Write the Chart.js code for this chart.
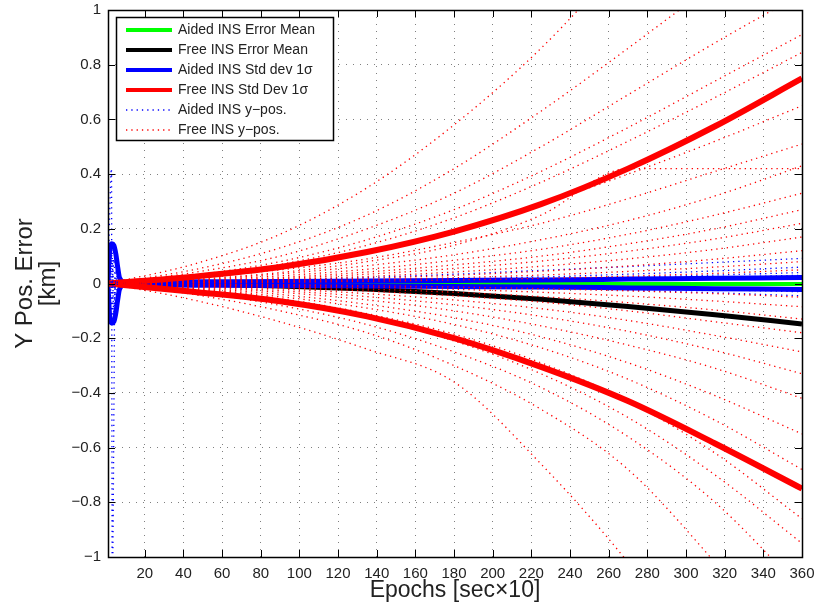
<!DOCTYPE html>
<html>
<head>
<meta charset="utf-8">
<script src="https://cdn.jsdelivr.net/npm/chart.js@4.4.1/dist/chart.umd.min.js"></script>
<style>
  html, body { margin: 0; padding: 0; background: #fff; }
  #wrap { width: 816px; height: 611px; }
</style>
</head>
<body>
<div id="wrap"><canvas id="yPosChart" width="816" height="611"></canvas></div>
<script>
const epochs = [1, 45, 90, 135, 180, 225, 270, 315, 360];
const xTicks = [20, 40, 60, 80, 100, 120, 140, 160, 180, 200, 220, 240, 260, 280, 300, 320, 340, 360];
const yTicks = [-1, -0.8, -0.6, -0.4, -0.2, 0, 0.2, 0.4, 0.6, 0.8, 1];

const aidedMean = [0, -0.001, -0.001, -0.002, -0.002, -0.002, -0.002, -0.002, -0.002];
const freeMean = [0, -0.002, -0.009, -0.02, -0.037, -0.058, -0.084, -0.114, -0.148];
const freeStdUpper = [0, 0.025, 0.06, 0.115, 0.19, 0.29, 0.42, 0.575, 0.75];
const freeStdLower = [0, -0.03, -0.065, -0.12, -0.2, -0.305, -0.43, -0.585, -0.75];

const aidedStdEpochs = [1, 2, 3, 4, 5, 6, 7, 10, 45, 90, 135, 180, 225, 270, 315, 360];
const aidedStdUpper = [0.01, 0.13, 0.145, 0.14, 0.11, 0.06, 0.02, 0.005, 0.006, 0.007, 0.009, 0.011, 0.013, 0.016, 0.019, 0.022];
const aidedStdLower = [-0.01, -0.13, -0.145, -0.14, -0.11, -0.06, -0.02, -0.005, -0.006, -0.007, -0.009, -0.011, -0.013, -0.016, -0.019, -0.022];

// aided runs: start-up spikes near epoch 3, then small errors
const aidedSpikeEpochs = [1, 2.8, 3.2, 4.5];
const aidedSpike = [0, 0.42, -1.1, 0];
const aidedWobbleEpochs = [1, 2, 3, 4, 5, 6];
const aidedWobbles = [
  [0, 0.12, -0.13, 0.09, -0.04, 0],
  [0, -0.1, 0.14, -0.12, 0.05, 0],
  [0, 0.06, 0.1, -0.14, 0.02, 0]
];
const aidedRuns = [
  [0, 0.006, 0.013, 0.022, 0.034, 0.048, 0.062, 0.077, 0.092],
  [0, 0.003, 0.006, 0.01, 0.016, 0.024, 0.034, 0.046, 0.06],
  [0, 0.002, 0.004, 0.007, 0.011, 0.016, 0.023, 0.031, 0.04],
  [0, 0.001, 0.003, 0.005, 0.008, 0.012, 0.017, 0.023, 0.03],
  [0, -0.001, -0.003, -0.005, -0.008, -0.012, -0.017, -0.023, -0.03],
  [0, -0.002, -0.005, -0.008, -0.012, -0.018, -0.025, -0.034, -0.045]
];

// free (unaided) runs
const freeRuns = [
  [0, 0.07, 0.18, 0.35, 0.58, 0.86, 1.2, 1.55, 1.9],
  [0, 0.05, 0.13, 0.25, 0.42, 0.63, 0.86, 1.1, 1.35],
  [0, 0.04, 0.1, 0.2, 0.33, 0.5, 0.69, 0.88, 1.06],
  [0, 0.03, 0.08, 0.16, 0.27, 0.41, 0.57, 0.74, 0.91],
  [0, 0.03, 0.07, 0.14, 0.24, 0.37, 0.52, 0.68, 0.845],
  [0, 0.02, 0.06, 0.11, 0.19, 0.29, 0.4, 0.52, 0.65],
  [0, 0.02, 0.05, 0.09, 0.15, 0.22, 0.31, 0.41, 0.51],
  [0, 0.015, 0.04, 0.08, 0.14, 0.25, 0.42, 0.42, 0.42],
  [0, 0.012, 0.035, 0.065, 0.105, 0.16, 0.23, 0.32, 0.43],
  [0, 0.01, 0.028, 0.052, 0.085, 0.125, 0.18, 0.25, 0.33],
  [0, 0.008, 0.022, 0.042, 0.068, 0.1, 0.145, 0.2, 0.27],
  [0, 0.007, 0.018, 0.034, 0.055, 0.082, 0.118, 0.163, 0.22],
  [0, 0.005, 0.014, 0.026, 0.042, 0.063, 0.09, 0.125, 0.17],
  [0, 0.004, 0.01, 0.019, 0.03, 0.045, 0.064, 0.089, 0.12],
  [0, 0.003, 0.007, 0.013, 0.021, 0.031, 0.044, 0.06, 0.08],
  [0, 0.002, 0.004, 0.008, 0.013, 0.019, 0.027, 0.037, 0.05],
  [0, -0.06, -0.14, -0.24, -0.36, -0.66, -1.02, -1.45, -1.9],
  [0, -0.04, -0.1, -0.18, -0.3, -0.46, -0.68, -1.02, -1.4],
  [0, -0.03, -0.08, -0.15, -0.25, -0.38, -0.56, -0.8, -1.12],
  [0, -0.025, -0.065, -0.125, -0.21, -0.33, -0.49, -0.7, -0.95],
  [0, -0.02, -0.055, -0.11, -0.185, -0.29, -0.43, -0.62, -0.86],
  [0, -0.018, -0.048, -0.09, -0.15, -0.235, -0.35, -0.5, -0.68],
  [0, -0.015, -0.04, -0.076, -0.125, -0.195, -0.29, -0.41, -0.55],
  [0, -0.012, -0.032, -0.06, -0.1, -0.155, -0.225, -0.31, -0.42],
  [0, -0.01, -0.026, -0.048, -0.078, -0.12, -0.175, -0.245, -0.33],
  [0, -0.008, -0.02, -0.037, -0.06, -0.092, -0.135, -0.19, -0.25],
  [0, -0.006, -0.015, -0.028, -0.045, -0.068, -0.1, -0.14, -0.18],
  [0, -0.004, -0.011, -0.02, -0.032, -0.048, -0.07, -0.097, -0.13],
  [0, -0.003, -0.007, -0.013, -0.021, -0.032, -0.046, -0.064, -0.085],
  [0, -0.002, -0.004, -0.008, -0.013, -0.019, -0.027, -0.037, -0.05]
];

const FONT = "'Liberation Sans', Arial, Helvetica, sans-serif";
const toXY = (xs, ys) => xs.map((x, i) => ({ x: x, y: ys[i] }));

function thickLine(label, xs, ys, color, width, order, legendIndex) {
  return {
    label: label, data: toXY(xs, ys), borderColor: color, borderWidth: width,
    pointRadius: 0, cubicInterpolationMode: 'monotone', order: order, legendIndex: legendIndex
  };
}
function dottedLine(label, xs, ys, color, order, legendIndex) {
  return {
    label: label, data: toXY(xs, ys), borderColor: color, borderWidth: 1.3,
    borderDash: [1.3, 4], pointRadius: 0, cubicInterpolationMode: 'monotone',
    order: order, legendIndex: legendIndex
  };
}

const datasets = [
  thickLine('Aided INS Error Mean', epochs, aidedMean, '#00ff00', 4, 6, 0),
  thickLine('Free INS Error Mean', epochs, freeMean, '#000000', 5, 5, 1),
  thickLine('Aided INS Std dev 1\u03c3', aidedStdEpochs, aidedStdUpper, '#0000ff', 5, 4, 2),
  thickLine('Aided INS Std dev 1\u03c3', aidedStdEpochs, aidedStdLower, '#0000ff', 5, 4),
  thickLine('Free INS Std Dev 1\u03c3', epochs, freeStdUpper, '#ff0000', 6, 3, 3),
  thickLine('Free INS Std Dev 1\u03c3', epochs, freeStdLower, '#ff0000', 6, 3),
  dottedLine('Aided INS y\u2212pos.', aidedSpikeEpochs, aidedSpike, '#0000ff', 2, 4)
];
aidedWobbles.forEach(r => datasets.push(dottedLine('Aided INS y\u2212pos.', aidedWobbleEpochs, r, '#0000ff', 2)));
aidedRuns.forEach(r => datasets.push(dottedLine('Aided INS y\u2212pos.', epochs, r, '#0000ff', 2)));
freeRuns.forEach((r, i) => datasets.push(dottedLine('Free INS y\u2212pos.', epochs, r, '#ff0000', 1, i === 0 ? 5 : undefined)));

// MATLAB-style box, inward ticks and in-axes legend
const frameAndLegend = {
  id: 'frameAndLegend',
  afterDraw(chart) {
    const ctx = chart.ctx;
    const a = chart.chartArea;
    const xs = chart.scales.x, ys = chart.scales.y;
    ctx.save();
    ctx.strokeStyle = '#000';
    ctx.lineWidth = 1;
    ctx.setLineDash([]);
    ctx.beginPath();
    xTicks.forEach(v => {
      const px = Math.round(xs.getPixelForValue(v)) + 0.5;
      ctx.moveTo(px, a.bottom); ctx.lineTo(px, a.bottom - 7);
      ctx.moveTo(px, a.top); ctx.lineTo(px, a.top + 7);
    });
    yTicks.forEach(v => {
      const py = Math.round(ys.getPixelForValue(v)) + 0.5;
      ctx.moveTo(a.left, py); ctx.lineTo(a.left + 7, py);
      ctx.moveTo(a.right, py); ctx.lineTo(a.right - 7, py);
    });
    ctx.stroke();
    ctx.lineWidth = 1.5;
    ctx.strokeRect(Math.round(a.left) + 0.5, Math.round(a.top) + 0.5, Math.round(a.right - a.left), Math.round(a.bottom - a.top));

    // legend
    const items = chart.data.datasets.filter(d => d.legendIndex !== undefined)
      .sort((p, q) => p.legendIndex - q.legendIndex);
    const bx = a.left + 8, by = a.top + 7, bw = 217, bh = 123;
    ctx.fillStyle = '#fff';
    ctx.fillRect(bx, by, bw, bh);
    ctx.lineWidth = 1.5;
    ctx.strokeStyle = '#000';
    ctx.strokeRect(bx + 0.5, by + 0.5, bw, bh);
    ctx.font = '14px ' + FONT;
    ctx.textBaseline = 'middle';
    ctx.textAlign = 'left';
    items.forEach((d, i) => {
      const y = by + 13 + i * 20;
      ctx.beginPath();
      ctx.strokeStyle = d.borderColor;
      ctx.lineWidth = d.borderDash ? 1.3 : 4;
      ctx.setLineDash(d.borderDash || []);
      ctx.moveTo(bx + 10, y);
      ctx.lineTo(bx + 56, y);
      ctx.stroke();
      ctx.setLineDash([]);
      ctx.fillStyle = '#222';
      ctx.fillText(d.label, bx + 62, y);
    });
    ctx.restore();
  }
};

function fmtY(v) {
  const r = Math.round(v * 10) / 10;
  if (r === 0) return '0';
  return (r < 0 ? '\u2212' : '') + Math.abs(r);
}

new Chart(document.getElementById('yPosChart'), {
  type: 'line',
  data: { datasets: datasets },
  options: {
    responsive: false,
    animation: false,
    devicePixelRatio: 1,
    layout: { padding: { left: 0, top: 10, right: 14, bottom: 0 } },
    plugins: { legend: { display: false }, tooltip: { enabled: false } },
    elements: { line: { borderCapStyle: 'butt' } },
    scales: {
      x: {
        type: 'linear', min: 1, max: 360,
        afterBuildTicks: s => { s.ticks = xTicks.map(v => ({ value: v })); },
        afterFit: s => { s.height = 54; s.paddingLeft = 0; s.paddingRight = 0; },
        ticks: { color: '#222', font: { family: FONT, size: 15 }, padding: 8, maxRotation: 0, autoSkip: false },
        grid: { color: 'rgba(0,0,0,0.5)', lineWidth: 1, drawTicks: false },
        border: { display: false, dash: [1, 6] },
        title: { display: true, text: 'Epochs [sec\u00d710]', color: '#222', font: { family: FONT, size: 23, lineHeight: 1 }, padding: { top: 0, bottom: 9 } }
      },
      y: {
        min: -1, max: 1,
        afterBuildTicks: s => { s.ticks = yTicks.map(v => ({ value: v })); },
        afterFit: s => { s.width = 108; s.paddingTop = 0; s.paddingBottom = 0; },
        ticks: { color: '#222', font: { family: FONT, size: 15 }, padding: 7, callback: fmtY },
        grid: { color: 'rgba(0,0,0,0.5)', lineWidth: 1, drawTicks: false },
        border: { display: false, dash: [1, 6] },
        title: { display: true, text: ['Y Pos. Error', '[km]'], color: '#222', font: { family: FONT, size: 24, lineHeight: 0.95 }, padding: { top: 14, bottom: 0 } }
      }
    }
  },
  plugins: [frameAndLegend]
});
</script>
</body>
</html>
